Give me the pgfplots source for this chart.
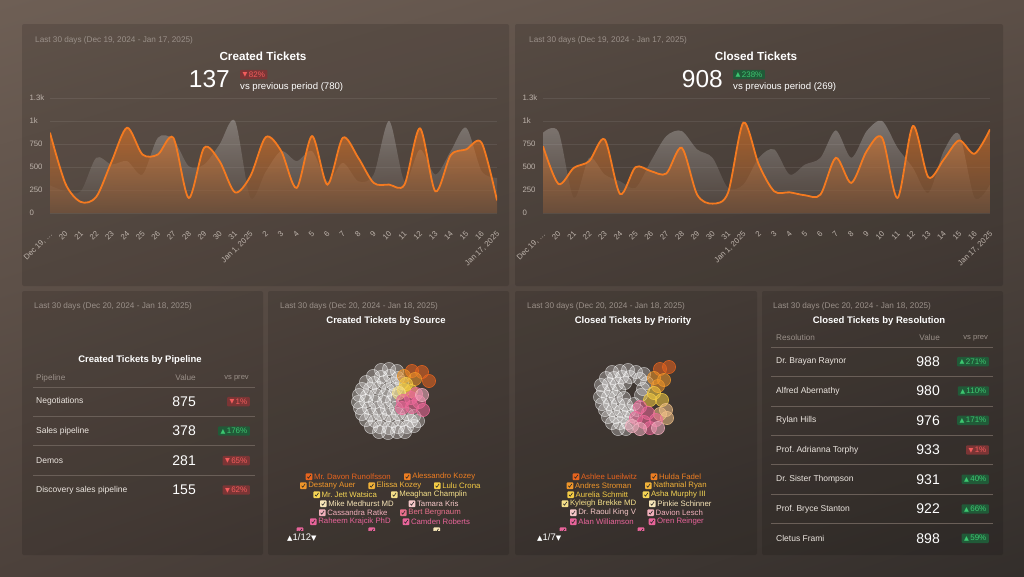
\documentclass[border=0pt]{standalone}
\usepackage{pgfplots}
\usepackage{pgfplotstable}
\pgfplotsset{compat=1.18}
\usetikzlibrary{shadings}
\usepackage{fontspec}
\setmainfont{Liberation Sans}
\newfontfamily\sym{DejaVu Sans}
\frenchspacing
\definecolor{bgul}{HTML}{6E5F55}
\definecolor{bgur}{HTML}{5C4F47}
\definecolor{bgll}{HTML}{4C413B}
\definecolor{bglr}{HTML}{332E2B}
\definecolor{pan}{HTML}{574A42}
\definecolor{txtdim}{HTML}{9A9089}
\definecolor{tickc}{HTML}{BDB3AB}
\definecolor{ora}{HTML}{F47A20}
\definecolor{redtxt}{HTML}{F25C5C}
\definecolor{redbg}{HTML}{7B3535}
\definecolor{grntxt}{HTML}{3CC770}
\definecolor{grnbg}{HTML}{215A38}
\definecolor{rowtxt}{HTML}{ECE6E0}
\definecolor{sepc}{HTML}{6A5F58}
\definecolor{cA}{HTML}{E8641E}
\definecolor{cB}{HTML}{EE7E22}
\definecolor{cC}{HTML}{F0962A}
\definecolor{cD}{HTML}{F2B33A}
\definecolor{cE}{HTML}{F5CC45}
\definecolor{cF}{HTML}{F6D655}
\definecolor{cG}{HTML}{F5E08A}
\definecolor{cH}{HTML}{F8E6B8}
\definecolor{cI}{HTML}{F6C8C8}
\definecolor{cJ}{HTML}{F2B0BC}
\definecolor{cK}{HTML}{E8708C}
\definecolor{cL}{HTML}{E8649A}
\definecolor{bpink}{HTML}{EE6A9A}
\definecolor{blpink}{HTML}{F2B0C0}
\definecolor{bpeach}{HTML}{F0C088}

\pgfplotstableread{
x cur prev
0 873 300
1 320 236
2 120 236
3 175 600
4 560 527
5 927 564
6 636 418
7 636 818
8 818 800
9 164 509
10 709 527
11 564 745
12 225 1000
13 400 164
14 825 450
15 673 673
16 273 564
17 836 673
18 309 345
19 818 545
20 600 345
21 327 418
22 309 1000
23 309 345
24 920 691
25 236 418
26 629 673
27 691 927
28 764 455
29 137 382
}\created
\pgfplotstableread{
x cur prev
0 727 873
1 316 884
2 491 164
3 564 600
4 800 418
5 207 345
6 498 273
7 455 564
8 429 836
9 709 891
10 200 691
11 102 600
12 218 273
13 982 309
14 527 600
15 236 691
16 225 418
17 193 527
18 200 600
19 600 898
20 327 600
21 673 891
22 818 1000
23 164 709
24 945 491
25 389 218
26 582 673
27 789 855
28 644 164
29 908 309
}\closed

\newcommand{\up}{{\sym\fontsize{6.3}{6}\selectfont\raisebox{0.3pt}{▲}}\,}
\newcommand{\dn}{{\sym\fontsize{6.3}{6}\selectfont\raisebox{0.3pt}{▼}}\,}
\newcommand{\cb}[3]{%
  \fill[#3, rounded corners=0.8pt] (#1-3.3,#2-3.3) rectangle (#1+3.3,#2+3.3);
  \draw[black!85, line width=0.6pt] (#1-1.7,#2+0.1) -- (#1-0.5,#2+1.5) -- (#1+1.8,#2-1.8);}
\newcommand{\legit}[4]{\cb{#1}{#2}{#3}\node[anchor=west, inner sep=0pt, text=#3, font=\fontsize{7.8}{9}\selectfont] at (#1+4.8,#2) {#4};}
\tikzset{dim/.style={anchor=west, inner sep=0pt, text=txtdim, font=\fontsize{8.2}{9}\selectfont},
  badge/.style={fill=#1, inner xsep=2.5pt, inner ysep=1.7pt, rounded corners=1pt, font=\fontsize{8}{8}\selectfont}}

\pgfplotsset{
  linechart/.style={
    scale only axis, width=447pt, height=115pt, anchor=south west,
    xmin=0, xmax=29, ymin=0, ymax=1250,
    ytick={0,250,500,750,1000,1250}, yticklabels={0,250,500,750,1k,1.3k},
    ymajorgrids, major grid style={white, opacity=0.08},
    axis line style={draw=none}, tick style={draw=none},
    xtick={0,...,29},
    xticklabels={{Dec 19, …},20,21,22,23,24,25,26,27,28,29,30,31,{Jan 1, 2025},2,3,4,5,6,7,8,9,10,11,12,13,14,15,16,{Jan 17, 2025}},
    ticklabel style={text=tickc, font=\fontsize{7.8}{8}\selectfont},
    xticklabel style={xshift=-1pt, yshift=-13pt, rotate=45, anchor=north east},
    yticklabel style={anchor=west, xshift=-24pt},
  },
  bub/.style={only marks, mark=*, mark size=6.6pt, mark options={fill=#1, fill opacity=0.55, draw=#1, draw opacity=0.85, line width=0.6pt}},
  wbub/.style={only marks, mark=*, mark size=6.6pt, mark options={fill=white, fill opacity=0.27, draw=white, draw opacity=0.6, line width=0.5pt}},
  bubaxis/.style={scale only axis, anchor=center, width=100pt, height=90pt, y dir=reverse, hide axis, clip=false},
}

\begin{document}
\begin{tikzpicture}[x=1pt,y=-1pt]
\useasboundingbox (0,0) rectangle (1024,576);
\shade[upper left=bgul, upper right=bgur, lower left=bgll, lower right=bglr] (0,0) rectangle (1024,576);
% panels
\foreach \a/\b/\c/\d in {22/24/509/286, 515/24/1003/286, 22/291/263/555, 268/291/509/555, 515/291/757/555, 762/291/1003/555}
  \fill[black, opacity=0.13, rounded corners=2pt] (\a,\b) rectangle (\c,\d);

% ---------- top left
\node[dim] at (35,40) {Last 30 days (Dec 19, 2024 - Jan 17, 2025)};
\node[text=white, font=\bfseries\fontsize{11.7}{13}\selectfont] at (263,56) {Created Tickets};
\node[anchor=east, inner sep=0pt, text=white, font=\fontsize{24.5}{26}\selectfont] at (230,79) {137};
\node[anchor=west, badge=redbg, text=redtxt] at (240,74.5) {\dn 82\%};
\node[anchor=west, inner sep=0pt, text=white, font=\fontsize{9.6}{11}\selectfont] at (240,87.5) {vs previous period (780)};

\begin{axis}[linechart, at={(50pt,-213pt)}]
\addplot[draw=none, smooth, top color=white!80!gray, bottom color=pan, fill opacity=0.32] table[x=x,y=prev]{\created} \closedcycle;
\addplot[draw=none, smooth, top color=ora, bottom color=ora!25!pan, fill opacity=0.55] table[x=x,y=cur]{\created} \closedcycle;
\addplot[ora, line width=1.8pt, smooth] table[x=x,y=cur]{\created};
\end{axis}

% ---------- top right
\node[dim] at (529,40) {Last 30 days (Dec 19, 2024 - Jan 17, 2025)};
\node[text=white, font=\bfseries\fontsize{11.7}{13}\selectfont] at (756,56) {Closed Tickets};
\node[anchor=east, inner sep=0pt, text=white, font=\fontsize{24.5}{26}\selectfont] at (723,79) {908};
\node[anchor=west, badge=grnbg, text=grntxt] at (733,74.5) {\up 238\%};
\node[anchor=west, inner sep=0pt, text=white, font=\fontsize{9.6}{11}\selectfont] at (733,87.5) {vs previous period (269)};

\begin{axis}[linechart, at={(543pt,-213pt)}]
\addplot[draw=none, smooth, top color=white!80!gray, bottom color=pan, fill opacity=0.32] table[x=x,y=prev]{\closed} \closedcycle;
\addplot[draw=none, smooth, top color=ora, bottom color=ora!25!pan, fill opacity=0.55] table[x=x,y=cur]{\closed} \closedcycle;
\addplot[ora, line width=1.8pt, smooth] table[x=x,y=cur]{\closed};
\end{axis}

% ---------- pipeline table
\node[dim] at (34,306) {Last 30 days (Dec 20, 2024 - Jan 18, 2025)};
\node[text=white, font=\bfseries\fontsize{9.5}{11}\selectfont] at (140,360) {Created Tickets by Pipeline};
\node[dim] at (36,378) {Pipeline};
\node[dim, anchor=east] at (196,378) {Value};
\node[dim, anchor=east, font=\fontsize{7.6}{9}\selectfont] at (249,378) {vs prev};
\foreach \yy in {387,416.7,445.7,475} \draw[sepc, line width=0.5pt] (33,\yy) -- (255,\yy);
\foreach \yy/\lab/\val/\bg/\fg/\pct in {401.7/Negotiations/875/redbg/redtxt/\dn 1\%, 431/Sales pipeline/378/grnbg/grntxt/\up 176\%, 460.7/Demos/281/redbg/redtxt/\dn 65\%, 490/Discovery sales pipeline/155/redbg/redtxt/\dn 62\%}{
  \node[anchor=west, inner sep=0pt, text=rowtxt, font=\fontsize{8.5}{9}\selectfont] at (36,\yy) {\lab};
  \node[anchor=east, inner sep=0pt, text=white, font=\fontsize{14}{15}\selectfont] at (196,\yy) {\val};
  \node[anchor=east, badge=\bg, text=\fg] at (250,\yy) {\pct};
}

% ---------- resolution table
\node[dim] at (773,306) {Last 30 days (Dec 20, 2024 - Jan 18, 2025)};
\node[text=white, font=\bfseries\fontsize{9.5}{11}\selectfont] at (879,320.7) {Closed Tickets by Resolution};
\node[dim] at (776,338) {Resolution};
\node[dim, anchor=east] at (940,338) {Value};
\node[dim, anchor=east, font=\fontsize{7.6}{9}\selectfont] at (988,338) {vs prev};
\foreach \yy in {347,376.7,406,435.3,464.7,494,523.3} \draw[sepc, line width=0.5pt] (771,\yy) -- (993,\yy);
\foreach \yy/\lab/\val/\bg/\fg/\pct in {361.7/Dr. Brayan Raynor/988/grnbg/grntxt/\up 271\%, 391/Alfred Abernathy/980/grnbg/grntxt/\up 110\%, 420.3/Rylan Hills/976/grnbg/grntxt/\up 171\%, 450/Prof. Adrianna Torphy/933/redbg/redtxt/\dn 1\%, 479.3/Dr. Sister Thompson/931/grnbg/grntxt/\up 40\%, 509/Prof. Bryce Stanton/922/grnbg/grntxt/\up 66\%, 538.3/Cletus Frami/898/grnbg/grntxt/\up 59\%}{
  \node[anchor=west, inner sep=0pt, text=rowtxt, font=\fontsize{8.5}{9}\selectfont] at (776,\yy) {\lab};
  \node[anchor=east, inner sep=0pt, text=white, font=\fontsize{14}{15}\selectfont] at (940,\yy) {\val};
  \node[anchor=east, badge=\bg, text=\fg] at (989,\yy) {\pct};
}

% ---------- source bubbles
\node[dim] at (280,306) {Last 30 days (Dec 20, 2024 - Jan 18, 2025)};
\node[text=white, font=\bfseries\fontsize{9.5}{11}\selectfont] at (386,320.7) {Created Tickets by Source};
\begin{axis}[bubaxis, at={(395pt,-405pt)}, xmin=345, xmax=445, ymin=360, ymax=450]
\addplot[wbub] coordinates {(381,370) (389,369) (397,371) (373,376) (381,377) (390,376) (398,378)
(366,382) (374,383) (384,382) (393,384) (402,383) (362,389) (370,389) (379,388) (388,390) (396,389)
(359,395) (367,396) (376,395) (385,396) (394,395) (358,402) (366,401) (375,402) (384,402) (392,401)
(360,408) (369,408) (378,408) (387,409) (396,408) (362,414) (371,415) (380,414) (389,415) (398,414) (407,414) (414,416)
(366,420) (375,421) (384,420) (393,421) (402,420) (411,421) (418,421)
(371,427) (380,427) (389,428) (398,427) (407,427) (414,426) (379,432) (388,433) (397,432) (405,432)};
\addplot[bub=cA] coordinates {(412,371) (422,372) (429,381)};
\addplot[bub=cC] coordinates {(404,376) (415,379)};
\addplot[bub=cE] coordinates {(406,384) (411,391) (404,390)};
\addplot[bub=cG] coordinates {(399,393)};
\addplot[bub=bpink] coordinates {(403,401) (411,398) (419,402) (423,410) (412,407) (402,408) (416,394)};
\addplot[bub=blpink] coordinates {(422,395)};
\end{axis}
\legit{309}{476.7}{cA}{Mr. Davon Runolfsson}\legit{407.3}{476.7}{cB}{Alessandro Kozey}
\legit{303.3}{485.7}{cC}{Destany Auer}\legit{371.7}{485.7}{cD}{Elissa Kozey}\legit{437.3}{485.7}{cE}{Lulu Crona}
\legit{316.7}{494.7}{cF}{Mr. Jett Watsica}\legit{394.3}{494.7}{cG}{Meaghan Champlin}
\legit{323.3}{503.7}{cH}{Mike Medhurst MD}\legit{412}{503.7}{cI}{Tamara Kris}
\legit{322.3}{512.7}{cJ}{Cassandra Ratke}\legit{403.3}{512.7}{cK}{Bert Bergnaum}
\legit{313.3}{521.7}{cL}{Raheem Krajcik PhD}\legit{406}{521.7}{cL}{Camden Roberts}
\begin{scope}
\clip (285,526.5) rectangle (505,530.3);
\cb{300}{530.7}{cL}\cb{371.7}{530.7}{cL}\cb{436.7}{530.7}{cH}
\end{scope}
\node[anchor=west, inner sep=0pt, text=white!85, font=\fontsize{9.5}{10}\selectfont] at (287,537) {{\sym\fontsize{7}{7}\selectfont ▲}1/12{\sym\fontsize{7}{7}\selectfont ▼}};

% ---------- priority bubbles
\node[dim] at (527,306) {Last 30 days (Dec 20, 2024 - Jan 18, 2025)};
\node[text=white, font=\bfseries\fontsize{9.5}{11}\selectfont] at (633,320.7) {Closed Tickets by Priority};
\begin{axis}[bubaxis, at={(640pt,-405pt)}, xmin=590, xmax=690, ymin=360, ymax=450]
\addplot[wbub] coordinates {(612,372) (620,371) (628,370) (636,372) (644,374)
(606,378) (614,378) (622,377) (630,377) (640,379) (647,383)
(601,385) (609,384) (617,384) (625,383) (643,389) (603,391) (611,391) (619,390) (641,395)
(600,397) (608,397) (616,397) (624,398) (602,404) (610,404) (618,404) (626,405) (634,404)
(605,410) (613,410) (621,411) (629,411) (637,410) (608,417) (616,417) (624,417) (632,416)
(612,423) (620,423) (628,423) (618,429) (626,429)};
\addplot[bub=cA] coordinates {(660,369) (669,367)};
\addplot[bub=cC] coordinates {(654,378) (664,380) (658,386)};
\addplot[bub=cE] coordinates {(654,393) (662,400) (650,400)};
\addplot[bub=bpeach] coordinates {(666,410) (667,418) (660,414)};
\addplot[bub=bpink] coordinates {(640,407) (648,413) (656,420) (644,422) (636,418) (650,428)};
\addplot[bub=blpink] coordinates {(640,429) (632,426) (658,428)};
\end{axis}
\legit{576}{476.7}{cA}{Ashlee Lueilwitz}\legit{654}{476.7}{cB}{Hulda Fadel}
\legit{570}{485.7}{cC}{Andres Stroman}\legit{648.3}{485.7}{cD}{Nathanial Ryan}
\legit{570.7}{494.7}{cE}{Aurelia Schmitt}\legit{646}{494.7}{cF}{Asha Murphy III}
\legit{565}{503.7}{cG}{Kyleigh Brekke MD}\legit{652.3}{503.7}{cH}{Pinkie Schinner}
\legit{573.3}{512.7}{cI}{Dr. Raoul King V}\legit{650.7}{512.7}{cJ}{Davion Lesch}
\legit{573.3}{521.7}{cL}{Alan Williamson}\legit{652}{521.7}{cL}{Oren Reinger}
\begin{scope}
\clip (530,526.5) rectangle (750,530.3);
\cb{563}{530.7}{cL}\cb{641}{530.7}{cL}
\end{scope}
\node[anchor=west, inner sep=0pt, text=white!85, font=\fontsize{9.5}{10}\selectfont] at (537,537) {{\sym\fontsize{7}{7}\selectfont ▲}1/7{\sym\fontsize{7}{7}\selectfont ▼}};
\end{tikzpicture}
\end{document}
